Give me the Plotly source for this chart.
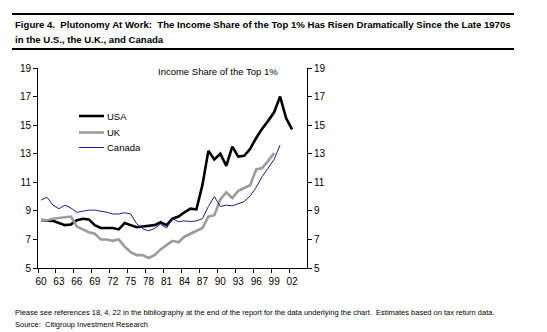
import plotly.graph_objects as go

years = list(range(1960, 2003))
usa = [8.35, 8.35, 8.3, 8.15, 8.0, 8.05, 8.35, 8.45, 8.4, 8.0, 7.8, 7.8, 7.8, 7.7, 8.15, 8.0, 7.85, 7.9, 7.95, 8.0, 8.2, 8.0, 8.45, 8.6, 8.9, 9.15, 9.1, 10.8, 13.2, 12.6, 13.0, 12.15, 13.5, 12.8, 12.85, 13.35, 14.1, 14.75, 15.3, 15.9, 17.0, 15.5, 14.7]
uk_years = list(range(1960, 2000))
uk = [8.35, 8.35, 8.45, 8.5, 8.5, 8.6, 7.9, 7.7, 7.5, 7.4, 7.0, 7.0, 6.9, 7.0, 6.5, 6.1, 5.9, 5.9, 5.7, 5.9, 6.3, 6.6, 6.9, 6.8, 7.2, 7.4, 7.6, 7.8, 8.6, 8.7, 9.8, 10.3, 9.9, 10.4, 10.6, 10.8, 11.9, 12.0, 12.5, 13.05]
ca_years = list(range(1960, 2001))
canada = [9.75, 9.95, 9.4, 9.15, 9.4, 9.2, 8.9, 9.0, 9.05, 9.05, 9.0, 8.9, 8.78, 8.78, 8.87, 8.78, 8.1, 7.75, 7.6, 7.77, 8.08, 7.8, 8.45, 8.24, 8.3, 8.25, 8.3, 8.45, 9.3, 10.0, 9.3, 9.4, 9.35, 9.5, 9.65, 10.05, 10.65, 11.4, 12.0, 12.6, 13.6]

tick_pos = [1959.5 + 3 * k for k in range(15)]
tick_text = ["60", "63", "66", "69", "72", "75", "78", "81", "84", "87", "90", "93", "96", "99", "02"]
y_ticks = [5, 7, 9, 11, 13, 15, 17, 19]

FONT = "Liberation Sans Narrow, Arial Narrow, Liberation Sans, Arial, sans-serif"

fig = go.Figure()
fig.add_trace(go.Scatter(x=years, y=usa, mode="lines", line=dict(color="black", width=2.6), name="USA"))
fig.add_trace(go.Scatter(x=uk_years, y=uk, mode="lines", line=dict(color="#9b9b9b", width=2.6), name="UK"))
fig.add_trace(go.Scatter(x=ca_years, y=canada, mode="lines", line=dict(color="#1f1f8f", width=1), name="Canada"))
# invisible trace so the right-hand axis is drawn
fig.add_trace(go.Scatter(x=years, y=usa, mode="lines", line=dict(width=0), opacity=0, yaxis="y2", showlegend=False, hoverinfo="skip"))

axis_common = dict(range=[5, 19], tickvals=y_ticks, ticks="outside", ticklen=4, tickcolor="black",
                   showline=True, linecolor="black", linewidth=1, showgrid=False, zeroline=False,
                   tickfont=dict(family=FONT, size=10, color="black"))

fig.update_layout(
    width=547, height=332,
    margin=dict(l=38, r=240, t=68, b=64),
    paper_bgcolor="white", plot_bgcolor="white",
    showlegend=False,
    xaxis=dict(range=[1959.5, 2004.5], tickvals=tick_pos, ticktext=tick_text, ticks="outside", ticklen=4,
               tickcolor="black", showline=True, linecolor="black", linewidth=1, showgrid=False,
               zeroline=False, ticklabelshift=3, tickfont=dict(family=FONT, size=10, color="black")),
    yaxis=dict(side="left", **axis_common),
    yaxis2=dict(side="right", overlaying="y", **axis_common),
)

def px_x(x):
    return (x - 38) / 269

def px_y(y):
    return (268 - y) / 200

# Title rules
for yy in (14, 49):
    fig.add_shape(type="line", xref="paper", yref="paper", x0=px_x(12), x1=px_x(514), y0=px_y(yy), y1=px_y(yy),
                  line=dict(color="black", width=2))

fig.add_annotation(x=px_x(13), y=px_y(25), xref="paper", yref="paper", xanchor="left", yanchor="middle",
                   showarrow=False, text="<b>Figure 4.  Plutonomy At Work:  The Income Share of the Top 1% Has Risen Dramatically Since the Late 1970s</b>",
                   font=dict(family=FONT, size=9.6, color="black"))
fig.add_annotation(x=px_x(13), y=px_y(39.5), xref="paper", yref="paper", xanchor="left", yanchor="middle",
                   showarrow=False, text="<b>in the U.S., the U.K., and Canada</b>",
                   font=dict(family=FONT, size=9.6, color="black"))

fig.add_annotation(x=px_x(217.5), y=px_y(71), xref="paper", yref="paper", xanchor="center", yanchor="middle",
                   showarrow=False, text="Income Share of the Top 1%", font=dict(family=FONT, size=9.5, color="black"))

# Legend
leg = [("USA", "black", 2.6, 116), ("UK", "#9b9b9b", 2.6, 132.5), ("Canada", "#1f1f8f", 1, 147.5)]
for name, col, w, yy in leg:
    fig.add_shape(type="line", xref="paper", yref="paper", x0=px_x(79), x1=px_x(104), y0=px_y(yy), y1=px_y(yy),
                  line=dict(color=col, width=w))
    fig.add_annotation(x=px_x(105), y=px_y(yy), xref="paper", yref="paper", xanchor="left", yanchor="middle",
                       showarrow=False, text=name, font=dict(family=FONT, size=9.5, color="black"))

fig.add_annotation(x=px_x(13), y=px_y(312.5), xref="paper", yref="paper", xanchor="left", yanchor="middle",
                   showarrow=False,
                   text="Please see references 18, 4, 22 in the bibliography at the end of the report for the data underlying the chart.  Estimates based on tax return data.",
                   font=dict(family=FONT, size=7.5, color="black"))
fig.add_annotation(x=px_x(13), y=px_y(324), xref="paper", yref="paper", xanchor="left", yanchor="middle",
                   showarrow=False, text="Source:  Citigroup Investment Research",
                   font=dict(family=FONT, size=7.5, color="black"))

fig.write_html("out.html")
